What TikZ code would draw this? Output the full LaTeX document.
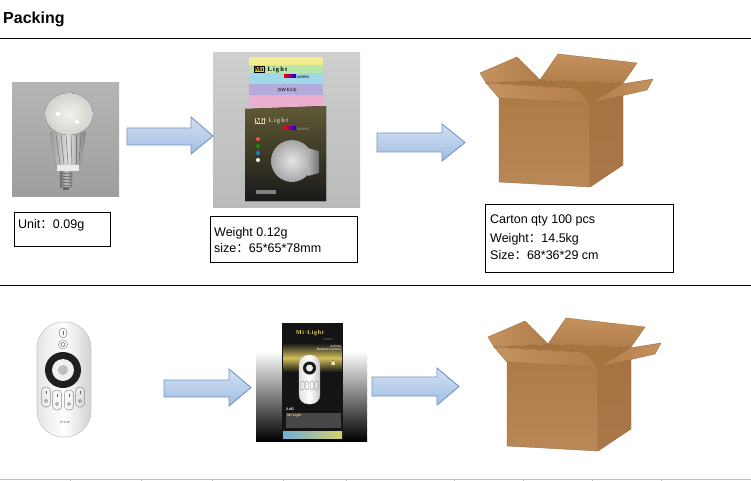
\documentclass[tikz,border=0pt]{standalone}
\usepackage{fontspec}
\setmainfont{Liberation Sans}
\newfontfamily\cjk{Noto Sans CJK SC}
\newfontfamily\serifb{Liberation Serif}
\definecolor{arrowtop}{HTML}{D3E1F3}
\definecolor{arrowbot}{HTML}{A0BDE2}
\definecolor{arrowedge}{HTML}{7393C2}
\definecolor{cfront}{HTML}{AE7A48}
\definecolor{cfrontl}{HTML}{B98856}
\definecolor{cside}{HTML}{A57140}
\definecolor{cflap}{HTML}{C5925F}
\definecolor{cflapd}{HTML}{B07D4B}
\definecolor{cin}{HTML}{A6733F}
\definecolor{cedge}{HTML}{9C6A3B}
\tikzset{
  rule/.style={line width=1pt, draw=black},
  infobox/.style={draw=black, line width=1pt, anchor=north west, inner sep=0pt},
  info/.style={anchor=base west, inner sep=0pt, font=\fontsize{12.5}{15}\selectfont},
  blockarrow/.style={draw=arrowedge, line width=0.9pt, top color=arrowtop, bottom color=arrowbot},
  cface/.style={draw=cedge, line width=0.35pt, line join=round},
  tiny/.style={inner sep=0pt, font=\fontsize{3.6}{4}\selectfont},
  carton/.pic={
    \fill[cin] (-13,-15) -- (41,-18) -- (124,-15) -- (91,5) -- (78,-9) -- cycle;
    \draw[cface, top color=cflap, bottom color=cflapd] (41,-18) -- (59,-44) -- (138,-35) -- (124,-15) -- cycle;
    \draw[cface, left color=cflap, right color=cflapd] (-19,-25) -- (18,-41) -- (41,-18) -- (-13,-15) -- cycle;
    \draw[cface, top color=cfront, bottom color=cfrontl] (0,0) -- (91,5) -- (91,89) -- (0,84) -- cycle;
    \draw[cface, top color=cside, bottom color=cside!95!white] (91,5) -- (124,-15) -- (124,67) -- (91,89) -- cycle;
    \draw[cface, left color=cflap, right color=cflapd] (-13,-15) -- (78,-9) -- (91,5) -- (0,0) -- cycle;
    \draw[cface, left color=cflapd, right color=cflap] (91,5) -- (123,-14) -- (154,-19) -- (148,-8) -- cycle;
  }
}
\begin{document}
\begin{tikzpicture}[x=1pt,y=-1pt]
\useasboundingbox[fill=white] (0,0) rectangle (751,481);

% title and rules
\node[anchor=base west, inner sep=0pt, font=\bfseries\fontsize{16}{19}\selectfont] (title) at (3,24) {Packing};
\draw[rule] (0,38.5) -- (751,38.5);
\draw[rule] (0,285.5) -- (751,285.5);
\draw[draw=black!25, line width=1pt] (0,479.5) -- (751,479.5);
\foreach \tx in {70,141,212,283,346,454,523,592,661}
  \draw[draw=black!25, line width=0.8pt] (\tx,479.5) -- (\tx,481);

% ---------- bulb photo ----------
\fill[top color=black!29, bottom color=black!38] (12,83) rectangle (119,196);
\draw[draw=black!45, left color=black!40, right color=black!50, middle color=black!12] (50,132) -- (86,132) -- (80,165) -- (56,165) -- cycle;
\foreach \sx/\bx in {56/60,61/64,66/68,71/72,76/76,81/79}
  \draw[black!55, line width=0.5pt] (\sx,134) -- (\bx,164);
\fill[inner color={rgb,255:red,244;green,242;blue,236}, outer color={rgb,255:red,212;green,210;blue,204}] (69,114) ellipse [x radius=24, y radius=21];
\fill[white] (58,114) ellipse [x radius=2.5, y radius=1.8];
\fill[white] (77,122) ellipse [x radius=2.5, y radius=1.8];
\fill[black!8] (57,165) rectangle (79,171);
\fill[left color=black!55, right color=black!50, middle color=black!25] (60,171) rectangle (72,187);
\foreach \ty in {173,176,179,182,185}
  \draw[black!65, line width=0.5pt] (60,\ty) -- (72,\ty+1);
\fill[black!60] (63,187) rectangle (69,190);

% ---------- bulb box photo ----------
\fill[top color=black!19, bottom color=black!27] (213,53) rectangle (360,207);
\fill[fill={rgb,255:red,242;green,238;blue,142}] (249,57) rectangle (323,65);
\fill[fill={rgb,255:red,186;green,230;blue,170}] (249,65) rectangle (323,73);
\fill[fill={rgb,255:red,160;green,216;blue,234}] (249,73) rectangle (323,84);
\fill[fill={rgb,255:red,180;green,170;blue,220}] (249,84) rectangle (323,95);
\fill[fill={rgb,255:red,236;green,174;blue,206}] (249,95) rectangle (323,107);
\node[fill={rgb,255:red,230;green,200;blue,60}, draw=black, line width=0.4pt, inner sep=0.5pt, font=\serifb\bfseries\fontsize{7}{7}\selectfont] (mia) at (259,69.5) {Mi};
\node[anchor=west, inner sep=0pt, font=\serifb\bfseries\fontsize{6.5}{7}\selectfont\addfontfeature{LetterSpace=18}] (lighta) at (mia.east) {·Light};
\shade[left color=red, right color=blue] (284,75) rectangle (296,77.5);
\node[anchor=west, tiny, font=\itshape\fontsize{4.5}{5}\selectfont] (seriesa) at (297,76.5) {series};
\node[tiny, font=\fontsize{4.5}{5}\selectfont] (watt) at (287,90) {(5W E14)};
\fill[top color={rgb,255:red,96;green,90;blue,52}, bottom color=black!90] (245,109) -- (326,106) -- (326,201) -- (245,201) -- cycle;
\node[fill={rgb,255:red,225;green,215;blue,150}, inner sep=0.5pt, font=\serifb\bfseries\fontsize{7}{7}\selectfont] (mib) at (260,121) {Mi};
\node[anchor=west, inner sep=0pt, text=black!25, font=\serifb\bfseries\fontsize{6.5}{7}\selectfont\addfontfeature{LetterSpace=18}] (lightb) at (mib.east) {·Light};
\shade[left color=red, right color=blue] (284,127) rectangle (296,129.5);
\node[anchor=west, tiny, text=black!40, font=\itshape\fontsize{4.5}{5}\selectfont] (seriesb) at (297,128.5) {series};
\fill[red!70] (258,139) circle (2);
\fill[green!60!black] (258,146) circle (2);
\fill[cyan!70!blue] (258,153) circle (2);
\fill[white] (258,160) circle (2);
\fill[inner color=black!10, outer color=black!35] (292,161) circle (21);
\fill[left color=black!30, right color=black!55] (308,148) -- (319,151) -- (319,173) -- (308,176) -- cycle;
\fill[black!50] (256,190) rectangle (276,194);

% ---------- arrows ----------
\draw[blockarrow] (127,128) -- (191,128) -- (191,117) -- (213,136) -- (191,154) -- (191,145) -- (127,145) -- cycle;
\draw[blockarrow] (377,133) -- (442,133) -- (442,124) -- (465,142.5) -- (442,161) -- (442,152) -- (377,152) -- cycle;
\draw[blockarrow] (164,380) -- (229,380) -- (229,369) -- (251,387.5) -- (229,406) -- (229,397) -- (164,397) -- cycle;
\draw[blockarrow] (372,377) -- (437,377) -- (437,368) -- (459,386.5) -- (437,405) -- (437,396) -- (372,396) -- cycle;

% ---------- cartons ----------
\pic at (499,98) {carton};
\pic at (507,362) {carton};

% ---------- info boxes ----------
\node[infobox, minimum width=96, minimum height=34] (box1) at (14,212) {};
\node[info] (t1) at (18,228) {Unit{\cjk ：}0.09g};
\node[infobox, minimum width=147, minimum height=46] (box2) at (210,216) {};
\node[info] (t2a) at (214,236) {Weight 0.12g};
\node[info] (t2b) at (214,252) {size{\cjk ：}65*65*78mm};
\node[infobox, minimum width=188, minimum height=68] (box3) at (485,204) {};
\node[info] (t3a) at (490,223) {Carton qty 100 pcs};
\node[info] (t3b) at (490,242) {Weight{\cjk ：}14.5kg};
\node[info] (t3c) at (490,259) {Size{\cjk ：}68*36*29 cm};

% ---------- remote ----------
\draw[draw=black!22, line width=0.6pt, left color=black!10, right color=black!18, middle color=white, rounded corners=26] (37,322) rectangle (91,437);
\draw[black!45, line width=0.5pt] (63,333) ellipse [x radius=4, y radius=5];
\draw[black!60, line width=0.8pt] (63,331) -- (63,335);
\draw[black!45, line width=0.5pt] (63,344.5) circle (4.5);
\draw[black!60, line width=0.6pt] (63,344.5) circle (2);
\fill[black!88] (63,370) circle (18);
\fill[black!6] (63,370) circle (11);
\fill[black!25] (63,370) circle (5);
\foreach \bx/\by in {46/387,57/390,69/390,80/387}{
  \draw[black!45, line width=0.5pt, rounded corners=4] (\bx-4.5,\by) rectangle (\bx+4.5,\by+20);
  \draw[black!60, line width=0.7pt] (\bx,\by+4) -- (\bx,\by+7);
  \draw[black!60, line width=0.5pt] (\bx,\by+14) circle (1.6);
}
\node[tiny, text=black!60, font=\fontsize{3}{3}\selectfont] (brand) at (65,422) {DTR.Mi};

% ---------- remote box photo ----------
\fill[top color=white, bottom color=black] (256,351) rectangle (367,441);
\fill[black!92] (282,323) rectangle (343,438);
\fill[top color=black!92, bottom color={rgb,255:red,210;green,190;blue,90}] (283,343) rectangle (342,358);
\fill[top color={rgb,255:red,210;green,190;blue,90}, bottom color=black!92] (283,358) rectangle (342,372);
\fill[inner color=white, outer color={rgb,255:red,200;green,180;blue,90}] (333,363) circle (2.5);
\node[inner sep=0pt, text={rgb,255:red,232;green,210;blue,110}, font=\serifb\bfseries\fontsize{6}{6}\selectfont\addfontfeature{LetterSpace=10}] (mic) at (310,333) {Mi·Light};
\node[tiny, text=black!55, font=\itshape\fontsize{3.5}{4}\selectfont] (seriesc) at (328,339) {series};
\node[tiny, text=black!15, font=\bfseries\fontsize{3.2}{3.5}\selectfont, align=right, anchor=north east] (zone) at (341,345) {4-Zone\\Remote Control};
\draw[draw=black!30, line width=0.3pt, left color=black!12, right color=black!22, middle color=white, rounded corners=9] (299,355) rectangle (320,404);
\fill[black!90] (309.5,368) circle (6.5);
\fill[black!8] (309.5,368) circle (3.5);
\foreach \bx in {302.5,307,312,316.5}
  \draw[black!45, line width=0.3pt, rounded corners=1.5] (\bx-1.8,381) rectangle (\bx+1.8,390);
\node[tiny, text=white, anchor=west, font=\bfseries\fontsize{3.6}{4}\selectfont] (ghz) at (286,409) {2.4G};
\fill[black!72] (286,413) rectangle (341,428);
\node[tiny, text={rgb,255:red,232;green,210;blue,110}, anchor=west, font=\serifb\bfseries\fontsize{3.6}{4}\selectfont] (mid) at (287,416) {Mi·Light};
\fill[left color={rgb,255:red,110;green,175;blue,215}, right color={rgb,255:red,215;green,205;blue,110}] (283,431) rectangle (342,438);

\end{tikzpicture}
\end{document}
